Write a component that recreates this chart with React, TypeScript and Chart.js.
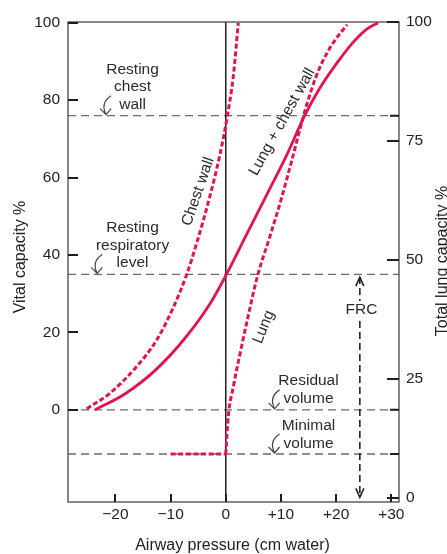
import React, { useEffect, useRef } from 'react';
import { Chart, registerables } from 'chart.js';

Chart.register(...registerables);

// ---- axes ----
const xMin = -28.6;
const xMax = 31.4;
const vcMin = -23.8;
const vcMax = 100.2;
const tlcMin = -0.84;
const tlcMax = 100;
const xTickValues = [-20, -10, 0, 10, 20, 30];
const xTickLabels = ['−20', '−10', '0', '+10', '+20', '+30'];
const vcTickValues = [0, 20, 40, 60, 80, 100];
const tlcTickValues = [0, 25, 50, 75, 100];

// ---- curves (x: airway pressure cm water, y: vital capacity %) ----
const chestWallX = [-25.2, -21.0, -16.15, -12.5, -9.5, -7.1, -5.27, -2.86, -1.05, 0.27, 1.36, 2.27];
const chestWallY = [0.3, 4.3, 11.2, 18.1, 26.5, 34.9, 43.1, 55.3, 66.0, 75.8, 86.1, 100];

const lungFlatX = [-10, 0];
const lungFlatY = [-11.4, -11.4];
const lungX = [0, 0.45, 1.4, 2.6, 4.1, 5.75, 8, 10, 12, 14, 15.5, 17, 18.5, 20, 22];
const lungY = [-11.4, -1.7, 6.2, 14.6, 24.5, 34.6, 44.8, 54.2, 64.6, 75.5, 82.6, 88.3, 92.6, 95.9, 99.5];

const totalX = [-23.7, -18.3, -12.8, -7.4, -2.86, 0.16, 3.8, 7.4, 11, 14.3, 17, 20, 23, 25.5, 27.6];
const totalY = [0, 4.1, 10.2, 18.5, 27.4, 35.1, 45.4, 55.5, 65.7, 76, 83, 89.3, 94.8, 98.3, 100];

// ---- reference levels (vital capacity %) ----
const levelValues = [76, 35, 0, -11.4];
const levelRightTicks = [76, 0, -11.4];

// ---- FRC arrow ----
const frcX = 24.3;
const frcTop = 34.3;
const frcBottom = -22.6;

// ---- annotations ----
const noteLines = [
  ['Resting', 'chest', 'wall'],
  ['Resting', 'respiratory', 'level'],
  ['Residual', 'volume'],
  ['Minimal', 'volume'],
];
const noteX = [-16.9, -16.9, 15.0, 15.0];
const noteY = [87.9, 47.0, 7.5, -4.1];

const frcLabel = 'FRC';
const frcLabelX = 24.6;
const frcLabelY = 25.8;

const curveLabels = ['Chest wall', 'Lung + chest wall', 'Lung'];
const curveLabelX = [-5.0, 10.2, 6.9];
const curveLabelY = [56.4, 74.4, 21.4];
const curveLabelAngle = [-71, -61, -68];

const arrowTipX = [-21.7, -23.3, 8.85, 8.85];
const arrowTipY = [76, 35, 0, -11.4];

const RED = '#E3144D';
const FONT = '"Liberation Sans", Arial, Helvetica, sans-serif';

const pts = (xs: number[], ys: number[]) => xs.map((v, i) => ({ x: v, y: ys[i] }));

const overlay = {
  id: 'overlay',
  afterDatasetsDraw(chart: any) {
    const { ctx, chartArea: a, scales } = chart;
    const sx = scales.x;
    const sy = scales.y;
    const sy2 = scales.y2;
    ctx.save();
    ctx.setLineDash([]);

    // box
    ctx.strokeStyle = '#555';
    ctx.lineWidth = 1.4;
    ctx.strokeRect(a.left, a.top, a.right - a.left, a.bottom - a.top);

    // inward ticks
    ctx.strokeStyle = '#1e1e1e';
    ctx.lineWidth = 2;
    ctx.beginPath();
    vcTickValues.forEach((v) => {
      const py = Math.round(sy.getPixelForValue(v));
      ctx.moveTo(a.left, py);
      ctx.lineTo(a.left + 10, py);
    });
    tlcTickValues.forEach((v) => {
      const py = Math.round(sy2.getPixelForValue(v));
      ctx.moveTo(a.right - 12, py);
      ctx.lineTo(a.right, py);
    });
    xTickValues.forEach((v) => {
      const px = Math.round(sx.getPixelForValue(v));
      ctx.moveTo(px, a.bottom);
      ctx.lineTo(px, a.bottom - 8);
    });
    levelRightTicks.forEach((v) => {
      const py = sy.getPixelForValue(v);
      ctx.moveTo(a.right - 9, py);
      ctx.lineTo(a.right, py);
    });
    ctx.stroke();

    // FRC arrow heads
    ctx.strokeStyle = '#222';
    ctx.lineWidth = 1.6;
    const fx = sx.getPixelForValue(frcX);
    const ft = sy.getPixelForValue(frcTop);
    const fb = sy.getPixelForValue(frcBottom);
    ctx.beginPath();
    ctx.moveTo(fx - 4, ft + 9);
    ctx.lineTo(fx, ft);
    ctx.lineTo(fx + 4, ft + 9);
    ctx.moveTo(fx - 4, fb - 9);
    ctx.lineTo(fx, fb);
    ctx.lineTo(fx + 4, fb - 9);
    ctx.stroke();

    // FRC label
    ctx.font = `15.5px ${FONT}`;
    ctx.textAlign = 'center';
    ctx.textBaseline = 'middle';
    const lx = sx.getPixelForValue(frcLabelX);
    const ly = sy.getPixelForValue(frcLabelY);
    const w = ctx.measureText(frcLabel).width;
    ctx.fillStyle = '#fff';
    ctx.fillRect(lx - w / 2 - 2, ly - 9, w + 4, 18);
    ctx.fillStyle = '#2b2b2b';
    ctx.fillText(frcLabel, lx, ly);

    // notes
    noteLines.forEach((lines, i) => {
      const px = sx.getPixelForValue(noteX[i]);
      const py = sy.getPixelForValue(noteY[i]);
      lines.forEach((t, j) => ctx.fillText(t, px, py + j * 17.6));
    });

    // curve labels
    curveLabels.forEach((t, i) => {
      ctx.save();
      ctx.translate(sx.getPixelForValue(curveLabelX[i]), sy.getPixelForValue(curveLabelY[i]));
      ctx.rotate((curveLabelAngle[i] * Math.PI) / 180);
      ctx.fillText(t, 0, 0);
      ctx.restore();
    });

    // curved arrows
    ctx.strokeStyle = '#444';
    ctx.lineWidth = 1.2;
    arrowTipX.forEach((vx, i) => {
      const tx = sx.getPixelForValue(vx);
      const ty = sy.getPixelForValue(arrowTipY[i]) - 1;
      ctx.beginPath();
      ctx.moveTo(tx + 5, ty - 19);
      ctx.quadraticCurveTo(tx - 6, ty - 12, tx, ty);
      ctx.moveTo(tx - 6, ty - 6);
      ctx.lineTo(tx, ty);
      ctx.lineTo(tx + 5, ty - 6);
      ctx.stroke();
    });

    ctx.restore();
  },
  afterDraw(chart: any) {
    const { ctx, chartArea: a } = chart;
    ctx.save();
    ctx.fillStyle = '#222';
    ctx.font = `16px ${FONT}`;
    ctx.textAlign = 'center';
    ctx.textBaseline = 'alphabetic';
    ctx.fillText('Airway pressure (cm water)', (a.left + a.right) / 2 - 1, 550);
    ctx.save();
    ctx.translate(25, 257);
    ctx.rotate(-Math.PI / 2);
    ctx.fillText('Vital capacity %', 0, 0);
    ctx.restore();
    ctx.save();
    ctx.translate(446.5, 261);
    ctx.rotate(-Math.PI / 2);
    ctx.fillText('Total lung capacity %', 0, 0);
    ctx.restore();
    ctx.restore();
  },
};

export default function App() {
  const ref = useRef<HTMLCanvasElement>(null);
  useEffect(() => {
    const canvas = ref.current as HTMLCanvasElement;
    const levelSets = levelValues.map((v) => ({
      data: [{ x: xMin, y: v }, { x: xMax, y: v }],
      borderColor: '#6a6a6a',
      borderWidth: 1.3,
      borderDash: [8, 5],
      order: 10,
    }));
    const chart = new Chart(canvas, {
      type: 'scatter',
      data: {
        datasets: [
          ...levelSets,
          {
            data: [{ x: 0, y: vcMin }, { x: 0, y: vcMax }],
            borderColor: '#1e1e1e',
            borderWidth: 1.5,
            order: 9,
          },
          {
            data: [{ x: frcX, y: frcTop }, { x: frcX, y: frcBottom }],
            borderColor: '#222',
            borderWidth: 1.6,
            borderDash: [7, 4],
            order: 8,
          },
          {
            data: pts(chestWallX, chestWallY),
            borderColor: RED,
            borderWidth: 3,
            borderDash: [5, 2.6],
            cubicInterpolationMode: 'monotone',
            order: 1,
          },
          {
            data: pts(lungFlatX, lungFlatY),
            borderColor: RED,
            borderWidth: 3,
            borderDash: [5, 2.6],
            order: 1,
          },
          {
            data: pts(lungX, lungY),
            borderColor: RED,
            borderWidth: 3,
            borderDash: [5, 2.6],
            cubicInterpolationMode: 'monotone',
            order: 1,
          },
          {
            data: pts(totalX, totalY),
            borderColor: RED,
            borderWidth: 2.8,
            cubicInterpolationMode: 'monotone',
            order: 0,
          },
        ] as any,
      },
      options: {
        responsive: false,
        animation: false,
        showLine: true,
        elements: { point: { radius: 0, hoverRadius: 0 }, line: { fill: false } },
        layout: { padding: { top: 22, left: 0, right: 0, bottom: 0 } },
        plugins: { legend: { display: false }, tooltip: { enabled: false } },
        events: [],
        scales: {
          x: {
            type: 'linear',
            position: 'bottom',
            min: xMin,
            max: xMax,
            afterFit: (s: any) => { s.height = 52; },
            afterBuildTicks: (s: any) => { s.ticks = xTickValues.map((v) => ({ value: v })); },
            ticks: {
              padding: 3,
              color: '#222',
              font: { family: FONT, size: 15.5 },
              callback: (v: any, i: number) => xTickLabels[i],
              maxRotation: 0,
              autoSkip: false,
            },
            grid: { display: false, drawTicks: false },
            border: { display: false },
          },
          y: {
            type: 'linear',
            position: 'left',
            min: vcMin,
            max: vcMax,
            afterFit: (s: any) => { s.width = 68; },
            afterBuildTicks: (s: any) => { s.ticks = vcTickValues.map((v) => ({ value: v })); },
            ticks: { padding: 8, color: '#222', font: { family: FONT, size: 15.5 }, autoSkip: false },
            grid: { display: false, drawTicks: false },
            border: { display: false },
          },
          y2: {
            type: 'linear',
            position: 'right',
            min: tlcMin,
            max: tlcMax,
            afterFit: (s: any) => { s.width = 48; },
            afterBuildTicks: (s: any) => { s.ticks = tlcTickValues.map((v) => ({ value: v })); },
            ticks: { padding: 7, color: '#222', font: { family: FONT, size: 15.5 }, autoSkip: false },
            grid: { display: false, drawTicks: false },
            border: { display: false },
          },
        },
      } as any,
      plugins: [overlay],
    });
    return () => chart.destroy();
  }, []);
  return (
    <div style={{ position: 'absolute', left: 0, top: 0, width: 447, height: 554, background: '#fff' }}>
      <canvas ref={ref} width={447} height={554} style={{ display: 'block', width: 447, height: 554 }} />
    </div>
  );
}
